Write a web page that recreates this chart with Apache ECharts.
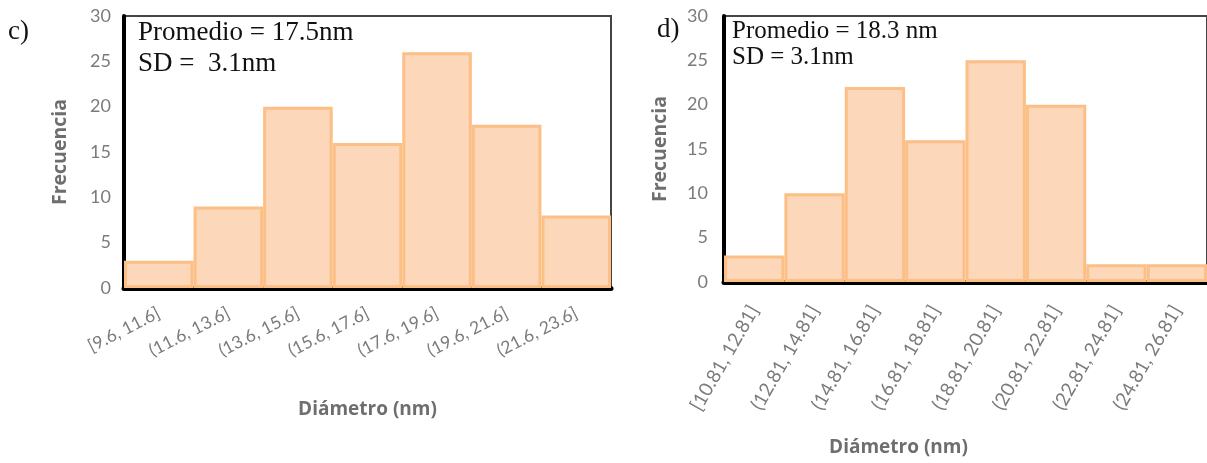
<!DOCTYPE html>
<html>
<head>
<meta charset="utf-8">
<script src="https://cdn.jsdelivr.net/npm/echarts@6/dist/echarts.min.js"></script>
<style>
html,body{margin:0;padding:0;background:#fff;}
#chart{width:1207px;height:463px;}
</style>
</head>
<body>
<div id="chart"></div>
<script>
// ---- data ----
const catsC = ['[9.6, 11.6]', '(11.6, 13.6]', '(13.6, 15.6]', '(15.6, 17.6]', '(17.6, 19.6]', '(19.6, 21.6]', '(21.6, 23.6]'];
const freqC = [3, 9, 20, 16, 26, 18, 8];
const catsD = ['[10.81, 12.81]', '(12.81, 14.81]', '(14.81, 16.81]', '(16.81, 18.81]', '(18.81, 20.81]', '(20.81, 22.81]', '(22.81, 24.81]', '(24.81, 26.81]'];
const freqD = [3, 10, 22, 16, 25, 20, 2, 2];
const yTicks = [0, 5, 10, 15, 20, 25, 30];
const textC = ['Promedio = 17.5nm', 'SD =  3.1nm'];
const textD = ['Promedio = 18.3 nm', 'SD = 3.1nm'];

const sans = 'Lato, "Open Sans", sans-serif';
const titleSans = '"Open Sans", Lato, sans-serif';
const serif = '"Liberation Serif", "DejaVu Serif", serif';
const tickGray = '#7b7b7b';
const titleGray = '#6e6e6e';
const barFill = '#fcd7ba';
const barEdge = '#fcbf86';

function xAxisCfg(idx, cats, rot, fs, margin, nameGap, namePad) {
  return {
    type: 'category', gridIndex: idx, data: cats,
    axisLine: {show: true, lineStyle: {color: '#000', width: 5}},
    axisTick: {show: false},
    axisLabel: {interval: 0, rotate: rot, color: tickGray, fontFamily: sans, fontSize: fs, margin: margin},
    name: 'Diámetro (nm)', nameLocation: 'middle', nameGap: nameGap,
    nameTextStyle: {color: titleGray, fontFamily: titleSans, fontWeight: 'bold', fontSize: 19, padding: namePad}
  };
}
function yAxisCfg(idx, margin) {
  return {
    type: 'value', gridIndex: idx, min: yTicks[0], max: yTicks[yTicks.length - 1], interval: yTicks[1] - yTicks[0],
    axisLine: {show: true, lineStyle: {color: '#000', width: 4}},
    axisTick: {show: false},
    splitLine: {show: false},
    axisLabel: {color: tickGray, fontFamily: sans, fontSize: 18, margin: margin},
    name: 'Frecuencia', nameLocation: 'middle', nameGap: 54, nameRotate: 90,
    nameTextStyle: {color: titleGray, fontFamily: titleSans, fontWeight: 'bold', fontSize: 19.5}
  };
}
function barSeries(idx, data) {
  return {
    type: 'bar', xAxisIndex: idx, yAxisIndex: idx, data: data,
    barCategoryGap: '0%', barWidth: '100%',
    itemStyle: {color: barFill, borderColor: barEdge, borderWidth: 3},
    silent: true
  };
}
function txt(left, top, s, size) {
  return {type: 'text', left: left, top: top, silent: true,
    style: {text: s, font: size + 'px ' + serif, fill: '#111'}};
}

const chart = echarts.init(document.getElementById('chart'), null, {renderer: 'canvas'});
chart.setOption({
  animation: false,
  backgroundColor: '#fff',
  grid: [
    {left: 124, top: 16, width: 487, height: 272, show: true, borderColor: '#444', borderWidth: 2, backgroundColor: 'transparent'},
    {left: 724, top: 16, width: 491, height: 266, show: true, borderColor: '#444', borderWidth: 2, backgroundColor: 'transparent'}
  ],
  xAxis: [xAxisCfg(0, catsC, 27, 17.5, 24, 112, [0, 0, 0, 0]), xAxisCfg(1, catsD, 60, 19, 25, 156, [0, 134, 0, 0])],
  yAxis: [yAxisCfg(0, 13), yAxisCfg(1, 16)],
  series: [barSeries(0, freqC), barSeries(1, freqD)],
  graphic: [
    txt(8, 18, 'c)', 27),
    txt(657, 16, 'd)', 27),
    txt(138, 19, textC[0], 27),
    txt(138, 50, textC[1], 27),
    txt(732, 19, textD[0], 25),
    txt(732, 45, textD[1], 25)
  ]
});
</script>
</body>
</html>
